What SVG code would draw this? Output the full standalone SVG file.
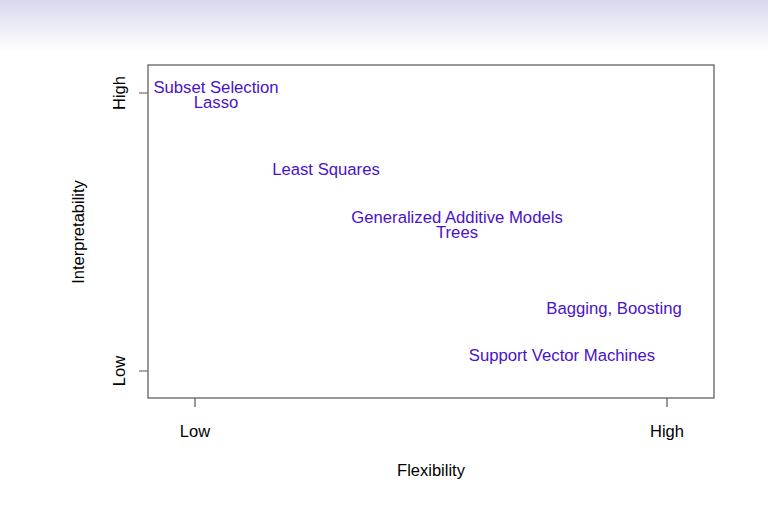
<svg xmlns="http://www.w3.org/2000/svg" width="768" height="513" viewBox="0 0 768 513">
<defs>
<linearGradient id="bg" x1="0" y1="0" x2="0" y2="1">
<stop offset="0" stop-color="#d9d8ee"/>
<stop offset="1" stop-color="#ffffff"/>
</linearGradient>
</defs>
<style>
.ax{fill:none;stroke:#555;stroke-width:1.2}
.lab{font-family:"Liberation Sans",Arial,sans-serif;font-size:16.5px;fill:#000;text-anchor:middle}
.pt{font-family:"Liberation Sans",Arial,sans-serif;font-size:16.7px;fill:#4a12c8;text-anchor:middle}
</style>
<rect width="768" height="513" fill="#fff"/>
<rect width="768" height="52" fill="url(#bg)"/>
<g id="axes">
<rect class="ax" x="148" y="65" width="566" height="333"/>
<path class="ax" d="M139 93H148M139 371H148M195 398V407M667 398V407"/>
</g>
<g id="axis-labels">
<text class="lab" x="195" y="437">Low</text>
<text class="lab" x="667" y="437">High</text>
<text class="lab" x="431" y="476">Flexibility</text>
<text class="lab" transform="translate(125 93) rotate(-90)">High</text>
<text class="lab" transform="translate(125 371) rotate(-90)">Low</text>
<text class="lab" transform="translate(84 232) rotate(-90)">Interpretability</text>
</g>
<g id="subset-selection"><text class="pt" x="216" y="93">Subset Selection</text></g>
<g id="lasso"><text class="pt" x="216" y="108">Lasso</text></g>
<g id="least-squares"><text class="pt" x="326" y="175">Least Squares</text></g>
<g id="gam"><text class="pt" x="457" y="223">Generalized Additive Models</text></g>
<g id="trees"><text class="pt" x="457" y="238">Trees</text></g>
<g id="bagging"><text class="pt" x="614" y="314">Bagging, Boosting</text></g>
<g id="svm"><text class="pt" x="562" y="361">Support Vector Machines</text></g>
<g id="connectors"></g>
</svg>
